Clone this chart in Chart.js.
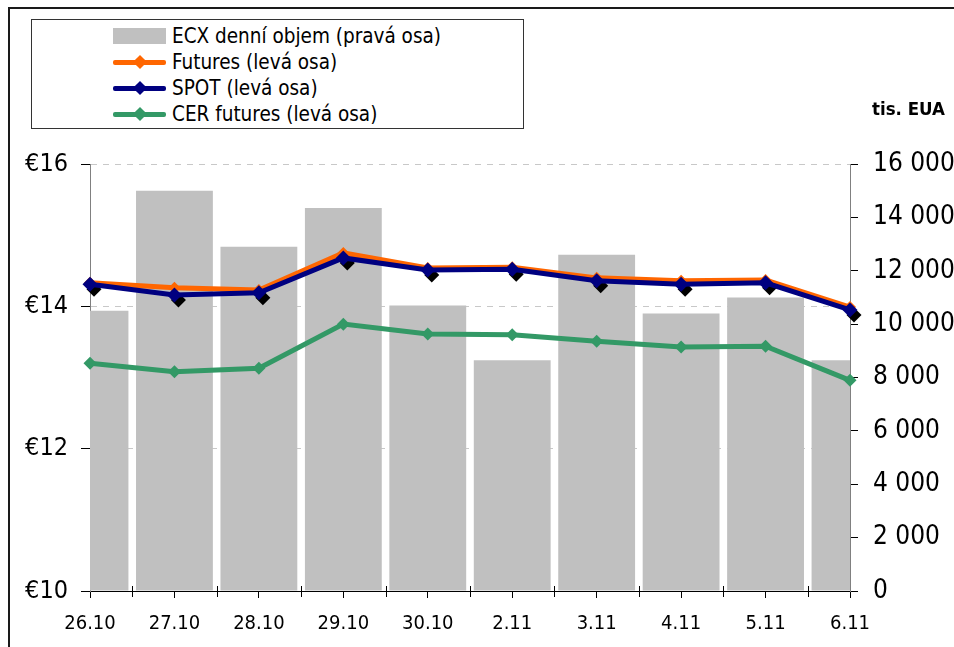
<!DOCTYPE html>
<html>
<head>
<meta charset="utf-8">
<script src="https://cdn.jsdelivr.net/npm/chart.js@4.4.1/dist/chart.umd.min.js"></script>
<style>
    html, body { margin: 0; padding: 0; background: #fff; }
    #wrap { position: relative; width: 954px; height: 647px; overflow: hidden;
            font-family: "DejaVu Sans Condensed", "Liberation Sans Narrow", "DejaVu Sans", sans-serif; }
    #frame { position: absolute; left: 8px; top: 7px; width: 960px; height: 660px;
             border-left: 2px solid #1a1a1a; border-top: 2px solid #1a1a1a; }
    #volChart { position: absolute; left: 0; top: 0; }
    #legend { position: absolute; left: 31px; top: 19px; width: 491px; height: 108px;
              border: 1px solid #333; background: #fff; }
    .row { position: absolute; left: 0; height: 26px; width: 100%; }
    .swatch { position: absolute; left: 81px; top: 0; width: 53px; height: 26px; }
    .label { position: absolute; left: 140px; top: 0; line-height: 26px; font-size: 20.5px; color: #000; white-space: nowrap; }
    #unit { position: absolute; left: 872px; top: 98px; font-size: 18.5px; font-weight: bold; color: #000; white-space: nowrap; }
</style>
</head>
<body>
<div id="wrap">
    <canvas id="volChart" width="954" height="647"></canvas>
    <div id="frame"></div>
    <div id="legend"></div>
    <div id="unit">tis. EUA</div>
</div>
<script>
// Categories (trading days)
const days = ['26.10', '27.10', '28.10', '29.10', '30.10', '2.11', '3.11', '4.11', '5.11', '6.11'];

// ECX daily volume, thousands EUA (right axis)
const ecxVolume = [10500, 15000, 12900, 14350, 10700, 8650, 12600, 10400, 11000, 8650];

// Prices in EUR (left axis)
const futuresPrice = [14.33, 14.26, 14.23, 14.75, 14.54, 14.55, 14.40, 14.36, 14.37, 13.99];
const spotPrice = [14.31, 14.16, 14.19, 14.68, 14.51, 14.52, 14.36, 14.31, 14.33, 13.95];
const cerPrice = [13.20, 13.08, 13.13, 13.75, 13.61, 13.60, 13.51, 13.43, 13.44, 12.96];

// Axis ticks
const priceTicks = [10, 12, 14, 16];
const volumeTicks = [0, 2000, 4000, 6000, 8000, 10000, 12000, 14000, 16000];

const fontFamily = '"DejaVu Sans Condensed", "Liberation Sans Narrow", "DejaVu Sans", sans-serif';

function thousands(v) {
    return String(v).replace(/\B(?=(\d{3})+(?!\d))/g, ' ');
}

// black drop shadow under the SPOT markers
const spotShadow = {
    id: 'spotShadow',
    beforeDatasetDraw(chart, args) {
        const ds = chart.data.datasets[args.index];
        if (!ds.shadow) return;
        const ctx = chart.ctx;
        const r = ds.pointRadius;
        ctx.save();
        ctx.fillStyle = '#000';
        args.meta.data.forEach(pt => {
            const x = pt.x + 4, y = pt.y + 5;
            ctx.beginPath();
            ctx.moveTo(x, y - r);
            ctx.lineTo(x + r, y);
            ctx.lineTo(x, y + r);
            ctx.lineTo(x - r, y);
            ctx.closePath();
            ctx.fill();
        });
        ctx.restore();
    }
};

// small ticks between categories on the x axis
const betweenTicks = {
    id: 'betweenTicks',
    afterDatasetsDraw(chart) {
        const xs = chart.scales.x;
        const ctx = chart.ctx;
        const y = chart.chartArea.bottom;
        ctx.save();
        ctx.strokeStyle = '#000';
        ctx.lineWidth = 1;
        for (let i = 0; i < days.length - 1; i++) {
            const x = Math.round((xs.getPixelForValue(i) + xs.getPixelForValue(i + 1)) / 2) + 0.5;
            ctx.beginPath();
            ctx.moveTo(x, y - 5);
            ctx.lineTo(x, y + 6);
            ctx.stroke();
        }
        ctx.restore();
    }
};

const ctx = document.getElementById('volChart').getContext('2d');
const chart = new Chart(ctx, {
    type: 'bar',
    data: {
        labels: days,
        datasets: [{
            type: 'line',
            label: 'Futures (levá osa)',
            data: futuresPrice,
            yAxisID: 'y',
            borderColor: '#FF6600',
            backgroundColor: '#FF6600',
            borderWidth: 5,
            pointStyle: 'rectRot',
            pointRadius: 6,
            pointBorderWidth: 0,
            tension: 0,
            clip: false,
            order: 3
        }, {
            type: 'line',
            label: 'SPOT (levá osa)',
            data: spotPrice,
            yAxisID: 'y',
            borderColor: '#000080',
            backgroundColor: '#000080',
            borderWidth: 5,
            pointStyle: 'rectRot',
            pointRadius: 7.5,
            pointBorderWidth: 0,
            tension: 0,
            clip: false,
            shadow: true,
            order: 2
        }, {
            type: 'line',
            label: 'CER futures (levá osa)',
            data: cerPrice,
            yAxisID: 'y',
            borderColor: '#339966',
            backgroundColor: '#339966',
            borderWidth: 5,
            pointStyle: 'rectRot',
            pointRadius: 6.5,
            pointBorderWidth: 0,
            tension: 0,
            clip: false,
            order: 1
        }, {
            type: 'bar',
            label: 'ECX denní objem (pravá osa)',
            data: ecxVolume,
            yAxisID: 'y1',
            backgroundColor: '#C0C0C0',
            borderWidth: 0,
            barPercentage: 0.91,
            categoryPercentage: 1,
            clip: 0,
            order: 10
        }]
    },
    options: {
        responsive: false,
        animation: false,
        devicePixelRatio: 1,
        layout: {
            padding: { left: 12, top: 164, right: 0, bottom: 0 }
        },
        plugins: {
            legend: { display: false },
            tooltip: { enabled: false }
        },
        scales: {
            x: {
                offset: false,
                grid: {
                    offset: false,
                    drawOnChartArea: false,
                    tickLength: 7,
                    tickColor: '#000'
                },
                border: { color: '#000', width: 1 },
                ticks: {
                    color: '#000',
                    padding: 14,
                    maxRotation: 0,
                    autoSkip: false,
                    font: { family: fontFamily, size: 20 }
                },
                afterFit(scale) { scale.height = 56; }
            },
            y: {
                position: 'left',
                min: 10,
                max: 16,
                afterBuildTicks(scale) { scale.ticks = priceTicks.map(v => ({ value: v })); },
                grid: {
                    color: '#C8C8C8',
                    tickColor: '#000',
                    tickLength: 9
                },
                border: { color: '#808080', width: 1, dash: [6, 6] },
                ticks: {
                    color: '#000',
                    padding: 13,
                    callback: v => '€' + v,
                    font: { family: fontFamily, size: 25 }
                },
                afterFit(scale) { scale.width = 78; }
            },
            y1: {
                position: 'right',
                min: 0,
                max: 16000,
                afterBuildTicks(scale) { scale.ticks = volumeTicks.map(v => ({ value: v })); },
                grid: {
                    drawOnChartArea: false,
                    tickColor: '#000',
                    tickLength: 8
                },
                border: { color: '#808080', width: 1 },
                ticks: {
                    color: '#000',
                    padding: 15,
                    callback: v => thousands(v),
                    font: { family: fontFamily, size: 26 }
                },
                afterFit(scale) { scale.width = 104; }
            }
        }
    },
    plugins: [spotShadow, betweenTicks]
});

// HTML legend built from the chart datasets (bar first, as in the original)
const legendEl = document.getElementById('legend');
const legendOrder = [3, 0, 1, 2];
legendOrder.forEach((idx, row) => {
    const ds = chart.data.datasets[idx];
    const r = document.createElement('div');
    r.className = 'row';
    r.style.top = (3 + row * 26) + 'px';
    const sw = document.createElement('div');
    sw.className = 'swatch';
    if (ds.type === 'bar') {
        sw.innerHTML = '<div style="position:absolute;left:0;top:5px;width:53px;height:16px;background:' + ds.backgroundColor + '"></div>';
    } else {
        sw.innerHTML = '<div style="position:absolute;left:0;top:11px;width:53px;height:5px;border-radius:2px;background:' + ds.borderColor + '"></div>' +
            '<div style="position:absolute;left:22px;top:8px;width:10px;height:10px;transform:rotate(45deg);background:' + ds.borderColor + '"></div>';
    }
    const lb = document.createElement('div');
    lb.className = 'label';
    lb.textContent = ds.label;
    r.appendChild(sw);
    r.appendChild(lb);
    legendEl.appendChild(r);
});
</script>
</body>
</html>
